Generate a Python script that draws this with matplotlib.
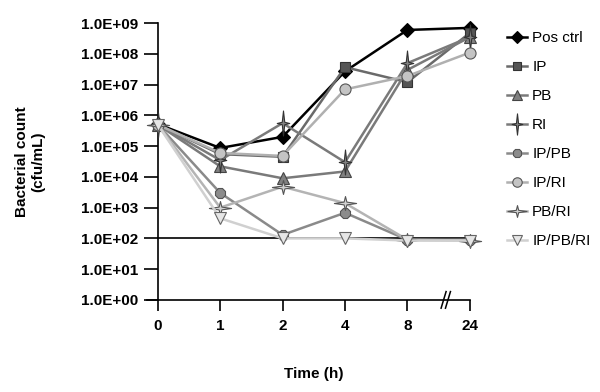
import matplotlib
matplotlib.use("Agg")
import matplotlib.pyplot as plt
from matplotlib.path import Path
from matplotlib.lines import Line2D

plt.rcParams['font.family'] = ['Liberation Sans', 'DejaVu Sans']

time_labels = ["0", "1", "2", "4", "8", "24"]
series_names = ["Pos ctrl", "IP", "PB", "RI", "IP/PB", "IP/RI", "PB/RI", "IP/PB/RI"]

pos_ctrl = [5.2e5, 8.7e4, 2.0e5, 2.7e7, 6.0e8, 7.0e8]
ip       = [5.0e5, 5.5e4, 4.5e4, 3.7e7, 1.2e7, 4.8e8]
pb       = [5.0e5, 2.2e4, 9.0e3, 1.5e4, 3.0e7, 3.5e8]
ri       = [5.0e5, 3.5e4, 5.6e5, 3.0e4, 5.0e7, 3.5e8]
ip_pb    = [5.0e5, 3.0e3, 1.3e2, 6.8e2, 9.0e1, 9.0e1]
ip_ri    = [5.0e5, 6.0e4, 4.8e4, 7.0e6, 1.9e7, 1.1e8]
pb_ri    = [5.0e5, 1.0e3, 4.8e3, 1.4e3, 9.0e1, 8.5e1]
ip_pb_ri = [5.0e5, 4.5e2, 1.0e2, 1.0e2, 8.5e1, 8.5e1]

all_series = [pos_ctrl, ip, pb, ri, ip_pb, ip_ri, pb_ri, ip_pb_ri]

def star4(w, h, k=0.18):
    verts = [(0, h), (k, k), (w, 0), (k, -k), (0, -h), (-k, -k), (-w, 0), (-k, k), (0, h)]
    codes = [Path.MOVETO] + [Path.LINETO] * 7 + [Path.CLOSEPOLY]
    return Path(verts, codes)

tall_star = star4(1.0, 2.0, 0.2)
wide_star = star4(1.6, 1.0, 0.2)

styles = [
    dict(color="#000000", marker="D", mfc="#000000", mec="#000000", ms=7),
    dict(color="#6a6a6a", marker="s", mfc="#555555", mec="#333333", ms=7),
    dict(color="#7a7a7a", marker="^", mfc="#808080", mec="#444444", ms=8),
    dict(color="#7a7a7a", marker=tall_star, mfc="#808080", mec="#333333", ms=18),
    dict(color="#8a8a8a", marker="8", mfc="#8c8c8c", mec="#555555", ms=8),
    dict(color="#b0b0b0", marker="o", mfc="#c4c4c4", mec="#555555", ms=8),
    dict(color="#b4b4b4", marker=wide_star, mfc="#d0d0d0", mec="#555555", ms=16),
    dict(color="#d0d0d0", marker="v", mfc="#e6e6e6", mec="#666666", ms=9),
]

fig = plt.figure(figsize=(6.0, 3.92), dpi=100)
ax = fig.add_axes([0.263, 0.235, 0.52, 0.706])

x = list(range(len(time_labels)))

ax.plot([0, 5], [1e2, 1e2], color="black", lw=1.2, zorder=1, clip_on=False)

handles = []
for name, vals, st in zip(series_names, all_series, styles):
    ln, = ax.plot(x, vals, lw=1.8, mew=0.8, label=name, clip_on=False, zorder=3, **st)
    handles.append(ln)

ax.set_yscale("log")
ax.set_ylim(1, 1e9)
ax.set_xlim(0, 5)
ax.set_yticks([10.0 ** k for k in range(0, 10)])
ax.set_yticklabels(["1.0E+%02d" % k for k in range(0, 10)])
ax.minorticks_off()
ax.set_xticks(x)
ax.set_xticklabels(time_labels)

for s in ["top", "right"]:
    ax.spines[s].set_visible(False)
ax.spines["left"].set_linewidth(1.2)
ax.spines["bottom"].set_linewidth(1.2)
ax.spines["bottom"].set_bounds(-0.17, 5)
ax.tick_params(axis="both", direction="out", length=8, width=1.2, labelsize=11, pad=6)
ax.tick_params(axis="y", length=10, pad=4)
for lbl in ax.get_xticklabels() + ax.get_yticklabels():
    lbl.set_fontweight("bold")

# axis break marks
trans = ax.get_xaxis_transform()
for dx in (0.0, 0.07):
    ax.add_line(Line2D([4.54 + dx, 4.62 + dx], [-0.03, 0.03], transform=trans,
                       color="black", lw=1.1, clip_on=False))

ax.set_xlabel("Time (h)", fontsize=11, fontweight="bold", labelpad=24)
ax.set_ylabel("Bacterial count\n(cfu/mL)", fontsize=11, fontweight="bold", labelpad=26)

leg = fig.legend(handles=handles, loc="upper left", bbox_to_anchor=(0.822, 0.955),
                 frameon=False, fontsize=11, handlelength=1.3, handletextpad=0.35,
                 labelspacing=0.98, numpoints=1, markerscale=0.85)

fig.savefig("out.png", dpi=100)
